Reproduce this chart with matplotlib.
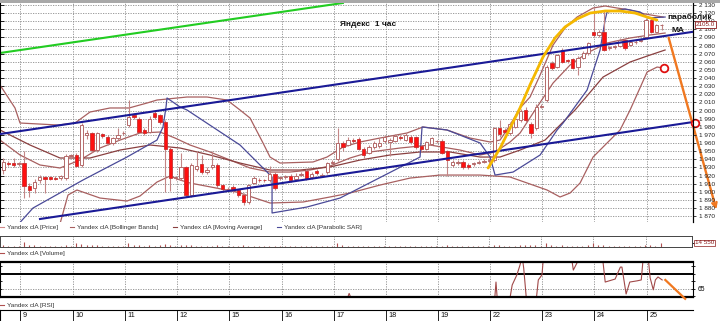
import matplotlib
matplotlib.use('Agg')
import matplotlib.pyplot as plt
import numpy as np
from matplotlib.lines import Line2D
from matplotlib.patches import Rectangle

plt.rcParams['font.family'] = ['Liberation Sans', 'DejaVu Sans']

# ---------------- data ----------------
first_idx = -4  # bar index of the first candle (hourly bars)
opens = [1927, 1936, 1936, 1934,
         1935, 1907, 1905, 1914, 1918, 1918, 1917, 1917, 1917, 1944,
         1945, 1933, 1970, 1972, 1951, 1971, 1968, 1960, 1966, 1972,
         1982, 1994, 1990, 1976, 1974, 1997, 1994, 1986, 1953, 1917,
         1917, 1930, 1896, 1928, 1934, 1924, 1930, 1933, 1908, 1903,
         1906, 1902, 1896, 1887, 1911, 1915, 1915, 1914, 1922, 1917,
         1918, 1920, 1916, 1921, 1926, 1918, 1926, 1920, 1924, 1936,
         1940, 1960, 1958, 1964, 1965, 1953, 1948, 1955, 1956, 1962,
         1961, 1963, 1968, 1964, 1968, 1967, 1956, 1953, 1959, 1962,
         1963, 1950, 1933, 1935, 1937, 1933, 1934, 1936, 1937, 1938,
         1939, 1978, 1976, 1972, 1980, 1988, 2001, 1984, 1978, 2005,
         2013, 2059, 2054, 2075, 2062, 2063, 2054, 2065, 2071, 2097,
         2093, 2097, 2077, 2078, 2080, 2087, 2081, 2084, 2086, 2091,
         2112, 2097, 2105]
closes = [1937, 1934, 1933, 1935,
          1907, 1902, 1912, 1918, 1916, 1916, 1916, 1919, 1944, 1945,
          1932, 1982, 1972, 1951, 1972, 1969, 1960, 1966, 1970, 1973,
          1992, 1992, 1974, 1972, 1990, 1992, 1986, 1953, 1917, 1918,
          1930, 1896, 1933, 1932, 1924, 1927, 1933, 1908, 1903, 1904,
          1902, 1896, 1887, 1908, 1917, 1914, 1914, 1922, 1905, 1917,
          1919, 1914, 1920, 1922, 1916, 1922, 1923, 1921, 1935, 1937,
          1960, 1955, 1964, 1962, 1953, 1945, 1955, 1960, 1960, 1968,
          1964, 1969, 1966, 1970, 1961, 1955, 1953, 1961, 1966, 1962,
          1948, 1939, 1937, 1937, 1930, 1930, 1935, 1937, 1938, 1939,
          1978, 1971, 1974, 1984, 1990, 2000, 1988, 1972, 2004, 2006,
          2054, 2052, 2068, 2060, 2061, 2053, 2065, 2071, 2083, 2093,
          2097, 2075, 2078, 2079, 2087, 2077, 2085, 2085, 2087, 2112,
          2097, 2105, 2105]
highs = [1941, 1938, 1941, 1937,
         1950, 1911, 1916, 1921, 1920, 1920, 1919, 1921, 1946, 1947,
         1948, 1985, 1976, 1974, 1974, 1973, 1970, 1968, 1978, 1975,
         2013, 1997, 1992, 1978, 1993, 1999, 1996, 1988, 1955, 1920,
         1948, 1932, 1936, 1950, 1945, 1930, 1950, 1935, 1910, 1906,
         1908, 1904, 1898, 1910, 1919, 1917, 1916, 1932, 1924, 1919,
         1921, 1922, 1923, 1924, 1928, 1924, 1928, 1923, 1937, 1939,
         1978, 1962, 1967, 1966, 1967, 1955, 1957, 1962, 1966, 1970,
         1966, 1971, 1970, 1972, 1970, 1969, 1958, 1963, 1968, 1964,
         1965, 1952, 1939, 1939, 1939, 1935, 1937, 1939, 1940, 1941,
         1980, 1988, 1978, 1986, 1992, 2002, 2004, 1986, 2008, 2008,
         2056, 2061, 2070, 2077, 2064, 2065, 2067, 2073, 2085, 2126,
         2099, 2123, 2080, 2081, 2089, 2089, 2087, 2087, 2089, 2114,
         2114, 2107, 2106]
lows = [1922, 1932, 1931, 1932,
        1892, 1894, 1899, 1911, 1898, 1914, 1914, 1915, 1914, 1942,
        1930, 1930, 1965, 1949, 1949, 1966, 1958, 1958, 1964, 1970,
        1980, 1990, 1972, 1970, 1972, 1990, 1984, 1900, 1901, 1915,
        1915, 1894, 1894, 1925, 1922, 1922, 1928, 1905, 1900, 1901,
        1899, 1893, 1884, 1885, 1909, 1912, 1912, 1912, 1902, 1914,
        1916, 1912, 1914, 1919, 1914, 1916, 1921, 1918, 1922, 1934,
        1938, 1950, 1956, 1960, 1951, 1942, 1946, 1953, 1954, 1960,
        1944, 1961, 1964, 1962, 1959, 1953, 1950, 1951, 1957, 1960,
        1946, 1920, 1931, 1933, 1928, 1928, 1932, 1934, 1935, 1936,
        1937, 1968, 1972, 1970, 1978, 1986, 1986, 1966, 1976, 2003,
        2011, 2050, 2052, 2058, 2059, 2051, 2044, 2063, 2069, 2090,
        2091, 2073, 2075, 2076, 2078, 2075, 2079, 2082, 2084, 2089,
        2095, 2095, 2099]
volumes = [6000, 3000, 4000, 3000,
           18000, 9000, 6000, 5000, 4000, 3000, 3000, 2500, 8000, 3000,
           14000, 12000, 6000, 8000, 7000, 4000, 5000, 4000, 5000, 3000,
           16000, 6000, 8000, 5000, 6000, 5000, 6000, 10000, 9000, 3000,
           7000, 9000, 8000, 5000, 4000, 3000, 4000, 6000, 4000, 3000,
           5000, 4000, 6000, 5000, 4000, 3000, 2500, 4000, 5000, 3000,
           3000, 4000, 3000, 3000, 4000, 3000, 3000, 2500, 4000, 3000,
           14000, 6000, 4000, 3000, 5000, 5000, 3000, 3000, 3000, 4000,
           3000, 3000, 2500, 3000, 3000, 5000, 3000, 3000, 3000, 2500,
           4000, 6000, 3000, 2500, 3000, 3000, 2500, 2500, 2500, 2500,
           9000, 6000, 4000, 4000, 5000, 6000, 6000, 7000, 6000, 3000,
           15000, 7000, 5000, 6000, 4000, 5000, 5000, 4000, 6000, 16000,
           7000, 8000, 4000, 3000, 3000, 4000, 3000, 3000, 3000, 9000,
           6000, 4000, 14550]

day_labels = ['9', '10', '11', '12', '15', '16', '17', '18', '19', '22', '23', '24', '25']
day_starts = [-0.78, 9.36, 19.31, 29.26, 39.21, 49.36, 59.31, 69.26, 79.21, 89.17, 99.12, 109.07, 119.22]

bb_up_x = [-4.61, -1.74, -0.78, 6.49, 9.74, 12.61, 16.44, 20.08, 23.52, 25.43, 31.18, 35.01, 38.83,
           41.32, 43.24, 45.72, 47.06, 48.97, 55.29, 57.97, 61.03, 64.28, 68.11, 73.28, 76.34, 80.93,
           85.34, 89.17, 91.08, 92.99, 94.91, 96.82, 98.74, 101.22, 103.52, 105.82, 108.88, 111.18,
           113.47, 115.96, 118.83, 122.28]
bb_up_y = [2031.5, 2003.2, 1984.7, 1982.2, 1984.7, 1998.2, 2003.2, 2003.2, 2009.3, 2013.0, 2016.7, 2016.7,
           2013.0, 2000.7, 1990.8, 1960.1, 1942.8, 1935.4, 1936.7, 1942.8, 1955.1, 1961.3, 1966.2, 1972.4,
           1979.8, 1976.1, 1966.2, 1961.3, 1963.7, 1982.2, 2003.2, 2016.7, 2043.8, 2080.7, 2101.7, 2115.2,
           2126.3, 2128.8, 2126.3, 2123.8, 2118.9, 2115.2]
bb_mid_x = [-4.61, -0.78, 3.04, 6.87, 10.70, 14.53, 18.35, 22.18, 26.01, 28.88, 31.75, 35.58, 39.41,
            43.24, 47.06, 50.89, 54.71, 58.54, 62.37, 66.20, 71.94, 77.68, 83.42, 87.25, 90.12, 92.99,
            94.91, 97.78, 101.22, 104.48, 107.73, 111.56, 115.96, 119.79, 122.66]
bb_mid_y = [1963.7, 1945.3, 1933.0, 1929.3, 1939.1, 1953.9, 1963.7, 1972.4, 1973.6, 1966.2, 1957.6, 1949.0,
            1939.1, 1929.3, 1924.3, 1924.3, 1926.8, 1931.7, 1941.6, 1949.0, 1953.9, 1957.6, 1951.4, 1945.3,
            1949.0, 1961.3, 1972.4, 2000.7, 2033.9, 2056.1, 2070.9, 2083.2, 2089.4, 2093.1, 2095.5]
bb_low_x = [-4.61, 6.5, 8.40, 10.12, 14.53, 19.69, 22.18, 25.43, 27.92, 29.84, 31.75, 40.75, 47.06,
            53.38, 58.54, 62.37, 68.11, 73.85, 79.59, 87.25, 92.99, 100.07, 102.56, 104.48, 106.39,
            108.88, 111.56, 114.05, 115.96, 119.22, 121.13, 122.47]
bb_low_y = [1840.0, 1852.0, 1896.0, 1902.2, 1892.3, 1888.6, 1894.8, 1912.0, 1919.4, 1914.5, 1910.8, 1899.7,
            1886.2, 1887.4, 1893.6, 1898.5, 1908.3, 1916.9, 1920.6, 1920.6, 1918.2, 1902.2, 1893.6, 1898.5,
            1910.8, 1942.8, 1960.1, 1976.1, 2000.7, 2047.5, 2053.6, 2052.4]
ma_x = [-4.61, 1.13, 6.87, 12.61, 18.35, 24.10, 29.84, 35.58, 41.32, 47.06, 52.80, 58.54, 64.28, 70.02,
        75.77, 81.51, 87.25, 91.08, 94.91, 99.69, 105.43, 110.79, 115.96, 119.79, 122.66]
ma_y = [1976.1, 1957.6, 1941.6, 1941.6, 1951.4, 1957.6, 1953.9, 1945.3, 1935.4, 1926.8, 1926.8, 1930.5,
        1939.1, 1945.3, 1949.0, 1949.0, 1942.8, 1942.8, 1951.4, 1963.7, 2000.7, 2041.3, 2059.8, 2068.4, 2074.6]
sar_x = [-1.74, 1.70, 11.27, 19.69, 25.43, 26.58, 27.16, 27.35, 29.84, 31.18, 41.32, 47.45, 47.45, 54.09,
         60.46, 75.77, 76.15, 80.93, 87.25, 89.17, 90.12, 93.57, 98.74, 102.0, 103.14, 107.73, 110.22,
         111.18, 111.56, 115.0, 117.87, 119.4, 122.66]
sar_y = [1855.4, 1880.0, 1914.5, 1942.8, 1963.7, 1979.8, 2004.4, 2015.5, 2004.4, 2000.7, 1957.6, 1918.2,
         1873.9, 1881.2, 1892.3, 1942.8, 1979.8, 1976.1, 1960.1, 1942.8, 1920.6, 1924.3, 1945.3, 1976.1,
         1984.7, 2025.3, 2074.6, 2111.5, 2121.4, 2125.1, 2121.4, 2114.0, 2115.2]
rsi_x = [-4.61, 10, 30, 50, 60.5, 61.5, 62.2, 63.0, 64, 80, 88.0, 89.9, 90.3, 90.7, 92.6, 93.4, 94.3,
         94.9, 95.3, 95.6, 96.3, 97.8, 98.4, 99.1, 99.4, 102, 104.6, 104.9, 105.1, 105.8, 106.0, 108,
         110.6, 110.8, 111.2, 113.1, 114.1, 114.4, 115.2, 115.9, 117.3, 118.1, 118.5, 119.4, 119.8,
         120.4, 120.8, 121.3, 122.1]
rsi_y = [48, 45, 50, 52, 55, 60, 63.5, 60, 55, 50, 52, 58, 67.3, 58, 58, 66.3, 69.7, 73, 76, 72, 58, 58,
         68, 69.7, 76, 80, 78, 73.7, 71.3, 73.7, 78, 80, 78, 73.7, 67.3, 68.3, 72.3, 72.3, 63.3, 67.3,
         67.7, 68, 76, 76, 68.7, 64.7, 68, 69, 68]

# hand-drawn annotations
green_x, green_y = [-4.61, 61.0], [2070.9, 2132.5]
chan_up_x, chan_up_y = [-4.61, 127.8], [1971.1, 2096.8]
chan_lo_x, chan_lo_y = [3.04, 128.0], [1866.5, 1985.9]
parab_x = [88.8, 91.1, 93.0, 94.9, 96.8, 99.3, 101.6, 103.5, 105.8, 108.3, 111.2, 114.1, 116.9, 119.2, 121.1]
parab_y = [1929.3, 1953.9, 1978.5, 2003.2, 2031.5, 2066.0, 2089.4, 2102.9, 2112.8, 2120.1, 2122.6,
           2122.6, 2120.1, 2115.2, 2111.5]
arrow_x, arrow_y = [123.2, 132.6], [2093.0, 1875.0]
circle_x, circle_y = [122.47, 128.4], [2052.4, 1984.7]
rsi_arrow_x, rsi_arrow_y = [122.7, 126.5], [68.0, 61.7]
last_price = 2105.0

# ---------------- figure ----------------
W, H = 720, 321
fig = plt.figure(figsize=(7.2, 3.21), dpi=100)
fig.patch.set_facecolor('white')


def fx(px):
    return px / W


def fy(py):
    return 1 - py / H


XLIM = (-4.61, 128.0)
GRID = dict(color='#8c8c8c', lw=0.6, ls=(0, (1.5, 1.5)))
BAND_C = '#a86060'
MA_C = '#8a4040'
SAR_C = '#4a4a98'

# ---- main price panel
ax = fig.add_axes([0, fy(222), fx(693), 220 / H])
ax.set_xlim(*XLIM)
ax.set_ylim(1862.8, 2133.7)
for xv in day_starts:
    ax.axvline(xv, zorder=0.5, **GRID)
for yv in range(1870, 2131, 10):
    ax.axhline(yv, zorder=0.5, **GRID)

ax.plot(green_x, green_y, color='#22cc22', lw=1.5, zorder=2)
ax.plot(bb_up_x, bb_up_y, color=BAND_C, lw=0.9, zorder=2)
ax.plot(bb_mid_x, bb_mid_y, color=BAND_C, lw=0.9, zorder=2)
ax.plot(bb_low_x, bb_low_y, color=BAND_C, lw=0.9, zorder=2)
ax.plot(ma_x, ma_y, color=MA_C, lw=0.9, zorder=2)
ax.plot(sar_x, sar_y, color=SAR_C, lw=0.9, zorder=2)

xs = np.arange(len(opens)) + first_idx
o = np.array(opens, float)
c = np.array(closes, float)
h = np.array(highs, float)
l = np.array(lows, float)
up = c >= o
ax.vlines(xs, l, h, color='#c48686', lw=0.8, zorder=3)
bot = np.minimum(o, c)
hgt = np.maximum(np.abs(c - o), 0.9)
ax.bar(xs[up], hgt[up], bottom=bot[up], width=0.64, facecolor='white',
       edgecolor='#b46a6a', lw=0.7, zorder=4)
ax.bar(xs[~up], hgt[~up], bottom=bot[~up], width=0.64, facecolor='#ff1010',
       edgecolor='#c83030', lw=0.6, zorder=4)

ax.plot(chan_up_x, chan_up_y, color='#1a1a96', lw=1.5, zorder=5)
ax.plot(chan_lo_x, chan_lo_y, color='#1a1a96', lw=1.5, zorder=5)
ax.plot(parab_x, parab_y, color='#f5b800', lw=2.0, zorder=6, solid_capstyle='round')
ax.annotate('', xy=(arrow_x[1], arrow_y[1]), xytext=(arrow_x[0], arrow_y[0]),
            arrowprops=dict(arrowstyle='->', color='#f07820', lw=1.7,
                            mutation_scale=8), annotation_clip=False, zorder=7)
ax.plot(circle_x, circle_y, 'o', mfc='white', mec='#e01010', ms=5.5, mew=1.3,
        clip_on=False, zorder=8)

for s in ['top', 'bottom']:
    ax.spines[s].set_visible(False)
ax.spines['left'].set_linewidth(0.8)
ax.spines['right'].set_linewidth(0.8)
ax.set_xticks([])
ax.set_yticks(range(1870, 2131, 10))
ax.tick_params(axis='y', left=True, right=False, labelleft=False,
               direction='in', length=3, width=0.6)
ax2 = ax.twinx()
ax2.set_ylim(ax.get_ylim())
ax2.set_yticks(range(1870, 2131, 10))
ax2.set_yticklabels([f"{v // 1000} {v % 1000:03d}" for v in range(1870, 2131, 10)])
ax2.tick_params(axis='y', direction='out', length=2.5, width=0.6, pad=1.5,
                labelsize=4.6, colors='#222222')
for s in ['top', 'bottom', 'left']:
    ax2.spines[s].set_visible(False)
ax2.spines['right'].set_linewidth(0.8)

# top border strip
fig.patches.append(Rectangle((0, fy(2.5)), 1, 2.5 / H, transform=fig.transFigure,
                             facecolor='#a8a8a8', edgecolor='none', zorder=10))

# chart texts
fig.text(fx(368), fy(25), 'Яндекс  1 час', ha='center', va='center', fontsize=6,
         fontweight='bold', color='#111111')
fig.text(fx(667), fy(17), 'параболик', ha='left', va='center', fontsize=6,
         fontweight='bold', color='#111111', zorder=12)
fig.text(fx(672), fy(30.5), 'MA', ha='left', va='center', fontsize=6,
         fontweight='bold', color='#111111', zorder=12)
fig.text(fx(705.5), fy(24.5), f"{last_price:.1f}", ha='center', va='center', fontsize=4.5,
         color='#8b1a1a', zorder=12,
         bbox=dict(boxstyle='square,pad=0.12', fc='white', ec='#8b1a1a', lw=0.6))

# legend rows


def legend_item(x0, y0, label, col):
    fig.lines.append(Line2D([fx(x0), fx(x0 + 4)], [fy(y0), fy(y0)],
                            transform=fig.transFigure, color=col, lw=0.8))
    fig.text(fx(x0 + 7), fy(y0), label, ha='left', va='center', fontsize=4.6,
             color='#333333')


legend_item(0, 227, 'Yandex clA [Price]', '#d08a8a')
legend_item(70, 227, 'Yandex clA [Bollinger Bands]', BAND_C)
legend_item(173, 227, 'Yandex clA [Moving Average]', MA_C)
legend_item(277, 227, 'Yandex clA [Parabolic SAR]', SAR_C)
legend_item(0, 253, 'Yandex clA [Volume]', '#b05050')
legend_item(0, 305, 'Yandex clA [RSI]', '#b05050')

# ---- volume panel
axv = fig.add_axes([0, fy(247), fx(692), 11 / H])
axv.set_xlim(*XLIM)
axv.set_ylim(0, 42000)
for xv in day_starts:
    axv.axvline(xv, zorder=0.5, **GRID)
axv.vlines(xs, 0, volumes, color='#b05050', lw=0.8)
axv.set_xticks([])
axv.set_yticks([14550])
axv.set_yticklabels([])
axv.tick_params(axis='y', left=False, right=True, direction='out', length=2, width=0.6)
for s in axv.spines.values():
    s.set_linewidth(0.7)
    s.set_color('#444444')
fig.text(fx(704.5), fy(243), '14 550', ha='center', va='center', fontsize=4.5,
         color='#8b1a1a', bbox=dict(boxstyle='square,pad=0.15', fc='white', ec='#8b1a1a', lw=0.5))

# ---- RSI panel
axr = fig.add_axes([0, fy(296.7), fx(693), 34.4 / H])
axr.set_xlim(*XLIM)
axr.set_ylim(62.4, 73.9)
for xv in day_starts:
    axr.axvline(xv, zorder=0.5, **GRID)
axr.axhline(65, zorder=0.5, **GRID)
axr.axhline(70, color='black', lw=1.4, zorder=1)
axr.plot(rsi_x, rsi_y, color='#a04848', lw=0.8, zorder=2)
axr.plot(rsi_arrow_x, rsi_arrow_y, color='#f07820', lw=1.6, clip_on=False, zorder=3)
axr.set_xticks([])
axr.set_yticks([62.5, 65, 67.5, 70, 72.5])
axr.set_yticklabels(['', '65', '', '', ''])
axr.tick_params(axis='y', left=True, right=True, labelleft=False, labelright=True,
                direction='inout', length=3, width=0.6, pad=1.5, labelsize=4.8)
axr.spines['top'].set_linewidth(1.6)
axr.spines['bottom'].set_linewidth(1.6)
axr.spines['left'].set_linewidth(0.8)
axr.spines['right'].set_linewidth(0.8)

# ---- date row
axd = fig.add_axes([0, 0, fx(693), 11 / H])
axd.set_xlim(*XLIM)
axd.set_ylim(0, 1)
for xv, lab in zip(day_starts, day_labels):
    axd.axvline(xv, color='#222222', lw=0.7)
    axd.text(xv + 0.5, 0.5, lab, ha='left', va='center', fontsize=5.2, color='#111111')
axd.set_xticks([])
axd.set_yticks([])
axd.spines['top'].set_linewidth(0.8)
axd.spines['left'].set_linewidth(0.8)
axd.spines['right'].set_visible(False)
axd.spines['bottom'].set_visible(False)

fig.savefig('out.png', dpi=100, facecolor='white')
